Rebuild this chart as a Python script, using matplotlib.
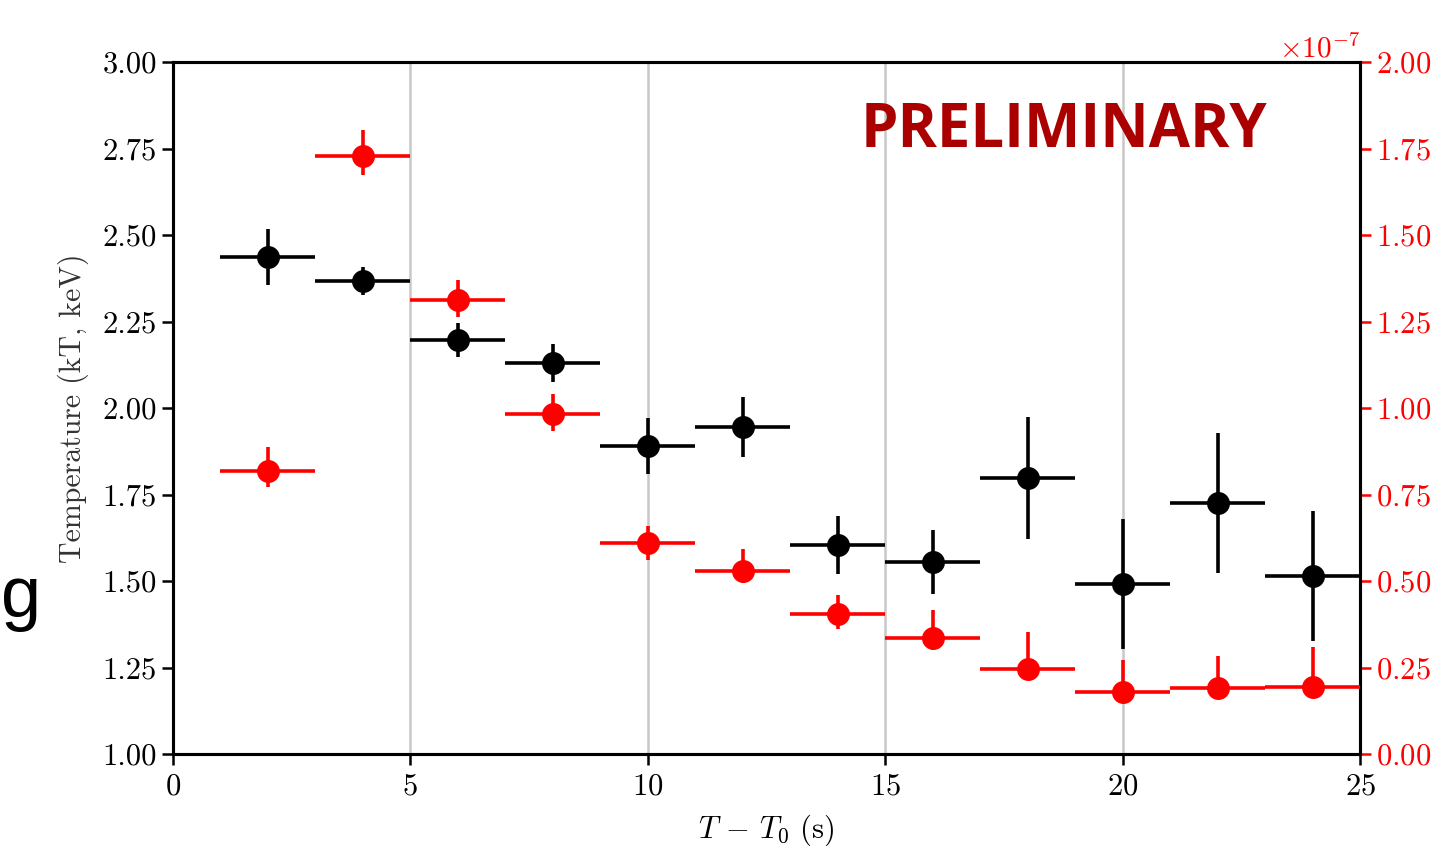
import matplotlib
matplotlib.use("Agg")
import matplotlib.pyplot as plt
from matplotlib.ticker import FormatStrFormatter, MultipleLocator

plt.rcParams['font.family'] = 'serif'
plt.rcParams['font.serif'] = ['cmr10']
plt.rcParams['mathtext.fontset'] = 'cm'
plt.rcParams['axes.formatter.use_mathtext'] = True
plt.rcParams['axes.unicode_minus'] = True

# Data
time_bins = [2, 4, 6, 8, 10, 12, 14, 16, 18, 20, 22, 24]
time_halfwidth = [1] * 12
temperature = [2.436, 2.368, 2.197, 2.130, 1.890, 1.945, 1.604, 1.555, 1.798, 1.491, 1.725, 1.514]
temp_err = [0.080, 0.040, 0.050, 0.056, 0.080, 0.086, 0.085, 0.092, 0.176, 0.187, 0.203, 0.187]
flux = [0.818, 1.728, 1.312, 0.983, 0.610, 0.529, 0.405, 0.335, 0.246, 0.179, 0.191, 0.194]  # x 1e-7
flux_err_lo = [0.045, 0.055, 0.048, 0.050, 0.048, 0.036, 0.044, 0.035, 0.030, 0.025, 0.025, 0.025]
flux_err_hi = [0.070, 0.075, 0.058, 0.057, 0.049, 0.063, 0.054, 0.081, 0.107, 0.093, 0.092, 0.115]
flux_scale = 1e-7

fig = plt.figure(figsize=(14.51, 8.46), dpi=100)
ax = fig.add_axes([0.1192, 0.1087, 0.8181, 0.8180])

ax.errorbar(time_bins, temperature, xerr=time_halfwidth, yerr=temp_err,
            fmt='o', color='black', ms=15.5, elinewidth=2.6, capsize=0, zorder=3)
ax.set_xlim(0, 25)
ax.set_ylim(1.0, 3.0)
ax.xaxis.set_major_locator(MultipleLocator(5))
ax.yaxis.set_major_locator(MultipleLocator(0.25))
ax.yaxis.set_major_formatter(FormatStrFormatter('%.2f'))
ax.grid(axis='x', color='#c8c8c8', linewidth=1.8, zorder=0)
ax.set_axisbelow(True)
ax.tick_params(axis='both', direction='out', length=8, width=1.8, labelsize=22, colors='black')
ax.tick_params(axis='x', pad=6)
ax.set_xlabel(r'$T\,-\,T_0$ (s)', fontsize=22, labelpad=8)
ax.set_ylabel('Temperature (kT, keV)', fontsize=21.5, color='#333333', labelpad=10)
for s in ax.spines.values():
    s.set_linewidth(2.2)

ax2 = ax.twinx()
ax2.errorbar(time_bins, [f * flux_scale for f in flux], xerr=time_halfwidth,
             yerr=[[e * flux_scale for e in flux_err_lo], [e * flux_scale for e in flux_err_hi]],
             fmt='o', color='#ff0000', ms=15.5, elinewidth=2.6, capsize=0, zorder=3)
ax2.set_ylim(0, 2e-7)
ax2.yaxis.set_major_locator(MultipleLocator(0.25e-7))
ax2.tick_params(axis='y', direction='out', length=8, width=1.8, labelsize=22, colors='#ff0000')
ax2.yaxis.get_offset_text().set_color('#ff0000')
ax2.yaxis.get_offset_text().set_fontsize(21)
for s in ax2.spines.values():
    s.set_linewidth(2.2)
ax2.spines['right'].set_color('black')

fig.text(0.5934, 0.8265, 'PRELIMINARY', fontsize=43, fontweight='bold',
         family='Open Sans', color='#aa0000', ha='left', va='baseline')

fig.text(0.001, 0.2707, 'g', fontsize=52, family='Liberation Sans',
         color='black', ha='left', va='baseline')

fig.savefig('out.png', dpi=100)
